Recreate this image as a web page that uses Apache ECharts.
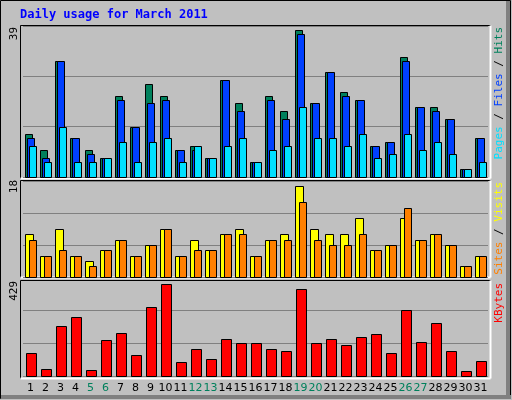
<!DOCTYPE html>
<html><head><meta charset="utf-8">
<script src="https://cdn.jsdelivr.net/npm/echarts@6/dist/echarts.min.js"></script>
<style>html,body{margin:0;padding:0;background:#c0c0c0}#c{width:512px;height:400px}</style>
</head><body><div id="c"></div>
<script>
const days = ['1','2','3','4','5','6','7','8','9','10','11','12','13','14','15','16','17','18','19','20','21','22','23','24','25','26','27','28','29','30','31'];
const weekends = ['5','6','12','13','19','20','26','27'];
const hits  = [11,7,30,10,7,5,21,13,24,21,7,8,5,25,19,4,21,17,38,19,27,22,20,8,9,31,18,18,15,2,10];
const files = [10,5,30,10,6,5,20,13,19,20,7,7,5,25,17,4,20,15,37,19,27,21,20,8,9,30,18,17,15,2,10];
const pages = [8,4,13,4,4,5,9,4,9,10,4,8,5,8,10,4,7,8,18,10,10,8,11,5,6,11,7,9,6,2,4];
const visits= [8,4,9,4,3,5,7,4,6,9,4,7,5,8,9,4,7,8,17,9,8,8,11,5,6,11,7,8,6,2,4];
const sites = [7,4,5,4,2,5,7,4,6,9,4,5,5,8,8,4,7,7,14,7,6,6,8,5,6,13,7,8,6,2,4];
const kbytes= [101,32,215,254,28,158,188,93,297,397,62,115,75,162,145,141,119,110,375,145,162,136,167,184,101,284,149,228,110,23,67];
const axisMax = [39,18,429];

function bar(name, data, gi, color, off, w){
  return {type:'custom', name, xAxisIndex:gi, yAxisIndex:gi, data:data.map((v,i)=>[i,v]),
    renderItem:(p,api)=>{
      const c=api.coord([api.value(0),api.value(1)]);
      const b=api.coord([api.value(0),0]);
      return {type:'rect', shape:{x:Math.round(c[0]+off)+0.5,y:Math.round(c[1])+0.5,width:w,height:Math.round(b[1]-c[1])},
        style:{fill:color,stroke:'#000',lineWidth:1}};
    }};
}
const grids=[{left:23,width:465,top:26,height:151},{left:23,width:465,top:181,height:96},{left:23,width:465,top:277,height:99}];
const xAxes=grids.map((g,i)=>({type:'category',gridIndex:i,data:days,axisLine:{show:false},axisTick:{show:false},
  axisLabel:{show:i===2,interval:0,margin:7,fontFamily:'DejaVu Sans',fontSize:11,color:(v)=>weekends.includes(v)?'#00805c':'#000'}}));
const yAxes=axisMax.map((m,i)=>({type:'value',gridIndex:i,min:0,max:m,interval:m/3,axisLabel:{show:false},axisLine:{show:false},axisTick:{show:false},
  splitLine:{show:true,lineStyle:{color:'#808080',width:1}}}));
function panel(y1,y2){return [
  {type:'line',shape:{x1:20.5,y1:y1+0.5,x2:490.5,y2:y1+0.5},style:{stroke:'#000',lineWidth:1},z:-1},
  {type:'line',shape:{x1:20.5,y1:y1+0.5,x2:20.5,y2:y2+0.5},style:{stroke:'#000',lineWidth:1},z:-1},
  {type:'line',shape:{x1:20.5,y1:y2+0.5,x2:490.5,y2:y2+0.5},style:{stroke:'#fff',lineWidth:2},z:-1},
  {type:'line',shape:{x1:490.5,y1:y1+0.5,x2:490.5,y2:y2+0.5},style:{stroke:'#fff',lineWidth:2},z:-1}];}
const mono='DejaVu Sans Mono';
function side(x,y,text,rich){return {type:'text',x,y,rotation:Math.PI/2,style:{text,rich,font:'11px "'+mono+'"',fill:'#000',align:'right',verticalAlign:'middle'}};}
const graphic=[
  {type:'rect',shape:{x:0.5,y:0.5,width:510,height:398},style:{fill:'none',stroke:'#000',lineWidth:1}},
  {type:'line',shape:{x1:1,y1:397,x2:511,y2:397},style:{stroke:'#808080',lineWidth:4}},
  {type:'line',shape:{x1:508,y1:1,x2:508,y2:399},style:{stroke:'#808080',lineWidth:4}},
  ...panel(25,178),...panel(180,277),...panel(280,378),
  {type:'text',x:20,y:9,style:{text:'Daily usage for March 2011',font:'bold 12px "'+mono+'"',fill:'#0000ff'}},
  side(14,27,'39'),side(14,180,'18'),side(14,281,'429'),
  side(499,27,'{h|Hits} / {f|Files} / {p|Pages}'.split('').reverse().join('')==='x'?'':'{p|Pages} / {f|Files} / {h|Hits}',{p:{fill:'#00e0ff',fontFamily:mono,fontSize:11},f:{fill:'#0040ff',fontFamily:mono,fontSize:11},h:{fill:'#00805c',fontFamily:mono,fontSize:11}}),
  side(499,182,'{s|Sites} / {v|Visits}',{s:{fill:'#ff8000',fontFamily:mono,fontSize:11},v:{fill:'#ffff00',fontFamily:mono,fontSize:11}}),
  side(499,283,'{k|KBytes}',{k:{fill:'#ff0000',fontFamily:mono,fontSize:11}})
];
const chart=echarts.init(document.getElementById('c'));
chart.setOption({animation:false,backgroundColor:'#c0c0c0',grid:grids,xAxis:xAxes,yAxis:yAxes,graphic,
  series:[bar('Hits',hits,0,'#00805c',-5.5,7),bar('Files',files,0,'#0040ff',-3.5,7),bar('Pages',pages,0,'#00e0ff',-1.5,7),
    bar('Visits',visits,1,'#ffff00',-5.5,8),bar('Sites',sites,1,'#ff8000',-1.5,7),
    bar('KBytes',kbytes,2,'#ff0000',-4.5,10)]});
</script></body></html>
